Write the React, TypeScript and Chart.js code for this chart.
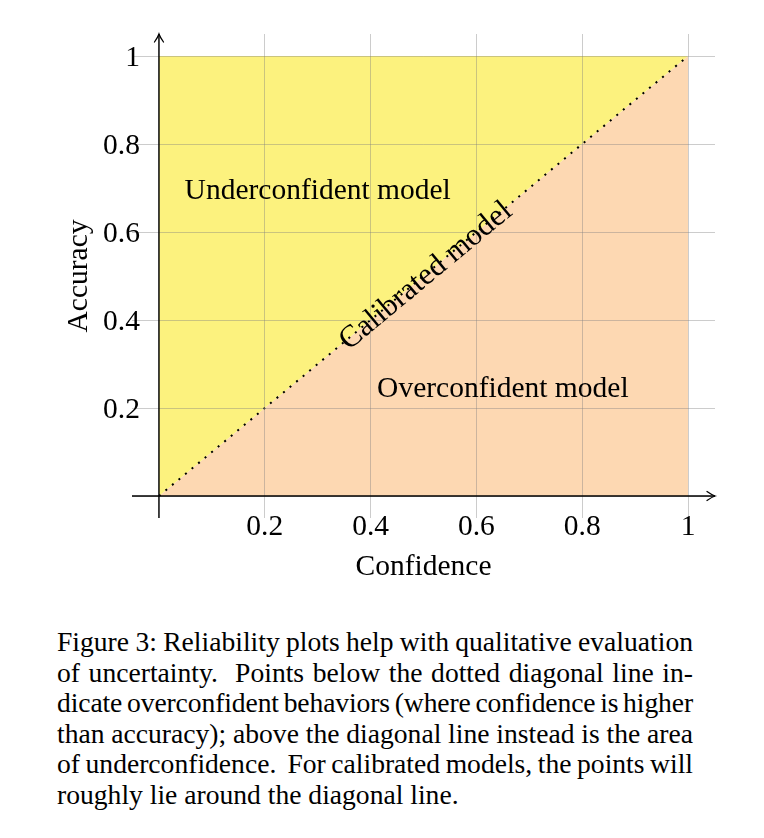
import React, { useEffect, useRef, useState } from "react";
import { Chart, registerables } from "chart.js";

Chart.register(...registerables);

// ---- data ----
const diagX = [0, 1];
const diagY = [0, 1];
const upperX = [0, 1];
const upperY = [1, 1];
const lowerX = [0, 1];
const lowerY = [0, 0];
const xTickValues = [0.2, 0.4, 0.6, 0.8, 1];
const yTickValues = [0.2, 0.4, 0.6, 0.8, 1];
const gridValues = [0, 0.2, 0.4, 0.6, 0.8, 1];
const xTitle = "Confidence";
const yTitle = "Accuracy";
const regionLabels = ["Underconfident model", "Overconfident model", "Calibrated model"];
const captionLines = [
  "Figure 3: Reliability plots help with qualitative evaluation",
  "of uncertainty.  Points below the dotted diagonal line in-",
  "dicate overconfident behaviors (where confidence is higher",
  "than accuracy); above the diagonal line instead is the area",
  "of underconfidence.  For calibrated models, the points will",
  "roughly lie around the diagonal line.",
];

// ---- styles ----
const FONT = "'Liberation Serif', 'Times New Roman', serif";
const YELLOW = "#FCF27E";
const PEACH = "#FDD8B2";
const CAPTION_WIDTH = 636;
const CAPTION_FONT = 27.6;

const toPts = (xs: number[], ys: number[]) => xs.map((x, i) => ({ x, y: ys[i] }));

const annotationPlugin = {
  id: "annot",
  afterDraw(chart: any) {
    const ctx = chart.ctx;
    const xs = chart.scales.x;
    const ys = chart.scales.y;
    const px = (v: number) => xs.getPixelForValue(v);
    const py = (v: number) => ys.getPixelForValue(v);
    const x0 = px(0);
    const y0 = py(0);
    const area = chart.chartArea;
    ctx.save();
    // axes
    ctx.strokeStyle = "#000";
    ctx.lineWidth = 1.4;
    ctx.beginPath();
    ctx.moveTo(area.left, y0);
    ctx.lineTo(area.right, y0);
    ctx.moveTo(x0, area.bottom);
    ctx.lineTo(x0, area.top);
    ctx.stroke();
    // arrow heads
    ctx.lineWidth = 1.3;
    ctx.lineCap = "round";
    ctx.beginPath();
    ctx.moveTo(area.right - 8, y0 - 4.5);
    ctx.quadraticCurveTo(area.right - 3, y0 - 1, area.right, y0);
    ctx.quadraticCurveTo(area.right - 3, y0 + 1, area.right - 8, y0 + 4.5);
    ctx.moveTo(x0 - 4.5, area.top + 8);
    ctx.quadraticCurveTo(x0 - 1, area.top + 3, x0, area.top);
    ctx.quadraticCurveTo(x0 + 1, area.top + 3, x0 + 4.5, area.top + 8);
    ctx.stroke();

    ctx.fillStyle = "#000";
    ctx.font = `29.5px ${FONT}`;
    ctx.textBaseline = "alphabetic";
    // x tick labels
    ctx.textAlign = "center";
    xTickValues.forEach((v) => {
      ctx.fillText(String(v), px(v), y0 + 38.5);
    });
    // y tick labels
    ctx.textAlign = "right";
    yTickValues.forEach((v) => {
      ctx.fillText(String(v), x0 - 19, py(v) + 9.5);
    });
    // axis titles
    ctx.textAlign = "center";
    ctx.fillText(xTitle, px(0.5), y0 + 79);
    ctx.save();
    ctx.translate(x0 - 72, py(0.5));
    ctx.rotate(-Math.PI / 2);
    ctx.fillText(yTitle, 0, 0);
    ctx.restore();
    // region labels
    ctx.fillText(regionLabels[0], px(0.3), py(0.675));
    ctx.fillText(regionLabels[1], px(0.65), py(0.225));
    // calibrated label along diagonal
    const ang = Math.atan2(py(1) - py(0), px(1) - px(0));
    ctx.save();
    ctx.translate(px(0.505), py(0.5));
    ctx.rotate(ang);
    ctx.font = `31px ${FONT}`;
    ctx.fillText(regionLabels[2], 0, 8);
    ctx.restore();
    ctx.restore();
  },
};

type LineFit = { word: number; letter: number };

function computeFits(): LineFit[] {
  const c = document.createElement("canvas");
  const ctx = c.getContext("2d");
  if (!ctx) return captionLines.map(() => ({ word: 0, letter: 0 }));
  ctx.font = `${CAPTION_FONT}px ${FONT}`;
  const spaceW = ctx.measureText(" ").width;
  const minSpace = spaceW * 0.7;
  return captionLines.map((line, i) => {
    if (i === captionLines.length - 1) return { word: 0, letter: 0 };
    const w = ctx.measureText(line).width;
    const spaces = (line.match(/ /g) || []).length;
    let word = spaces ? (CAPTION_WIDTH - w) / spaces : 0;
    let letter = 0;
    if (spaceW + word < minSpace) {
      word = minSpace - spaceW;
      const remaining = CAPTION_WIDTH - (w + word * spaces);
      letter = remaining / line.length;
    }
    return { word, letter };
  });
}

export default function App() {
  const ref = useRef<HTMLCanvasElement | null>(null);
  const [fits] = useState<LineFit[]>(() => computeFits());
  useEffect(() => {
    if (!ref.current) return;
    const setTicks = (scale: any) => {
      scale.ticks = gridValues.map((v) => ({ value: v }));
    };
    const chart = new Chart(ref.current, {
      type: "scatter",
      data: {
        datasets: [
          {
            data: toPts(diagX, diagY),
            showLine: true,
            borderColor: "#000",
            borderWidth: 2,
            borderDash: [2, 6.5],
            pointRadius: 0,
            fill: false,
            order: 0,
          },
          {
            data: toPts(upperX, upperY),
            showLine: true,
            borderWidth: 0,
            borderColor: "rgba(0,0,0,0)",
            backgroundColor: YELLOW,
            pointRadius: 0,
            fill: { target: 0 },
            order: 1,
          },
          {
            data: toPts(lowerX, lowerY),
            showLine: true,
            borderWidth: 0,
            borderColor: "rgba(0,0,0,0)",
            backgroundColor: PEACH,
            pointRadius: 0,
            fill: { target: 0 },
            order: 2,
          },
        ],
      },
      options: {
        animation: false,
        responsive: false,
        maintainAspectRatio: false,
        events: [],
        layout: { padding: { left: 132, right: 49, top: 34, bottom: 92 } },
        plugins: {
          legend: { display: false },
          tooltip: { enabled: false },
          filler: { drawTime: "beforeDatasetsDraw" },
        },
        scales: {
          x: {
            type: "linear",
            min: -0.051,
            max: 1.051,
            afterBuildTicks: setTicks,
            ticks: { display: false },
            border: { display: false },
            grid: { color: "rgba(128,128,128,0.4)", lineWidth: 1, drawTicks: false, z: 1 },
          },
          y: {
            type: "linear",
            min: -0.05,
            max: 1.05,
            afterBuildTicks: setTicks,
            ticks: { display: false },
            border: { display: false },
            grid: { color: "rgba(128,128,128,0.4)", lineWidth: 1, drawTicks: false, z: 1 },
          },
        },
      },
      plugins: [annotationPlugin],
    } as any);
    return () => chart.destroy();
  }, []);

  return (
    <div style={{ position: "absolute", left: 0, top: 0, width: 764, height: 838, background: "#fff" }}>
      <canvas ref={ref} width={764} height={610} style={{ position: "absolute", left: 0, top: 0, width: 764, height: 610 }} />
      <div
        style={{
          position: "absolute",
          left: 57,
          top: 627,
          width: CAPTION_WIDTH,
          fontFamily: FONT,
          fontSize: CAPTION_FONT,
          lineHeight: "30.6px",
          color: "#000",
        }}
      >
        {captionLines.map((line, i) => (
          <div
            key={i}
            style={{
              whiteSpace: "pre",
              wordSpacing: `${fits[i].word}px`,
              letterSpacing: `${fits[i].letter}px`,
            }}
          >
            {line}
          </div>
        ))}
      </div>
    </div>
  );
}
